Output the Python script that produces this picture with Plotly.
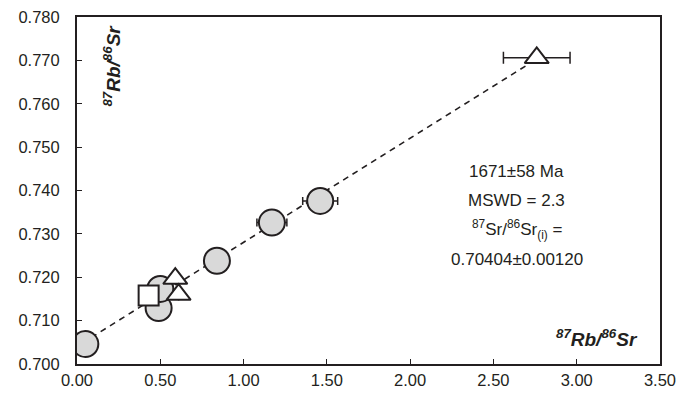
import plotly.graph_objects as go

# Data
circle_x = [0.05, 0.49, 0.50, 0.84, 1.17, 1.46]
circle_y = [0.7046, 0.7129, 0.7173, 0.7238, 0.7326, 0.7376]
circle_xerr = [0, 0, 0, 0, 0.09, 0.105]

square_x = [0.43]
square_y = [0.7158]

tri_x = [0.59, 0.61, 2.76]
tri_y = [0.7197, 0.7160, 0.7706]
tri_xerr = [0, 0, 0.20]

# isochron parameters
intercept = 0.70404
slope = 0.02401
line_x = [0.03, 2.72]
line_y = [intercept + slope * v for v in line_x]

x_ticks = [0.0, 0.5, 1.0, 1.5, 2.0, 2.5, 3.0, 3.5]
y_ticks = [0.700, 0.710, 0.720, 0.730, 0.740, 0.750, 0.760, 0.770, 0.780]

stats = ["1671±58 Ma", "MSWD = 2.3",
         "<sup>87</sup>Sr/<sup>86</sup>Sr<sub>(i)</sub> =", "0.70404±0.00120"]
stats_y = [0.7443, 0.7377, 0.7310, 0.7241]

INK = "#231f20"
FILL = "#d9d9d9"

fig = go.Figure()

fig.add_trace(go.Scatter(
    x=line_x, y=line_y, mode="lines",
    line=dict(color=INK, width=1.6, dash="6px,5px"),
    hoverinfo="skip", showlegend=False))

fig.add_trace(go.Scatter(
    x=circle_x, y=circle_y, mode="markers",
    marker=dict(symbol="circle", size=26, color=FILL, line=dict(color=INK, width=2)),
    error_x=dict(type="data", array=circle_xerr, color=INK, thickness=1.5, width=4),
    showlegend=False))

fig.add_trace(go.Scatter(
    x=square_x, y=square_y, mode="markers",
    marker=dict(symbol="square", size=20, color="white", line=dict(color=INK, width=2)),
    showlegend=False))

fig.add_trace(go.Scatter(
    x=tri_x, y=tri_y, mode="markers",
    marker=dict(symbol="triangle-up", size=21, color="white", line=dict(color=INK, width=2)),
    error_x=dict(type="data", array=tri_xerr, color=INK, thickness=1.5, width=6),
    showlegend=False))

axis_common = dict(
    showgrid=False, zeroline=False, showline=True, linecolor=INK, linewidth=2,
    mirror=True, ticks="inside", ticklen=5, tickwidth=1.2, tickcolor=INK,
    tickfont=dict(size=16.5, color=INK), automargin=False,
)

fig.update_xaxes(range=[0, 3.5], tickvals=x_ticks,
                 ticktext=[f"{v:.2f}" for v in x_ticks], **axis_common)
fig.update_yaxes(range=[0.700, 0.780], tickvals=y_ticks,
                 ticktext=[f"{v:.3f}" for v in y_ticks], ticklabelstandoff=12,
                 **axis_common)

ann_font = dict(size=17, color=INK)
for txt, yy in zip(stats, stats_y):
    fig.add_annotation(x=2.64, y=yy, xref="x", yref="y", text=txt,
                       showarrow=False, font=ann_font, xanchor="center", yanchor="middle")

fig.add_annotation(x=0.966, y=0.075, xref="paper", yref="paper",
                   text="<b><i><sup>87</sup>Rb/<sup>86</sup>Sr</i></b>",
                   showarrow=False, font=dict(size=19, color=INK),
                   xanchor="right", yanchor="middle")
fig.add_annotation(x=0.060, y=0.86, xref="paper", yref="paper",
                   text="<b><i><sup>87</sup>Rb/<sup>86</sup>Sr</i></b>",
                   showarrow=False, font=dict(size=19, color=INK), textangle=-90,
                   xanchor="center", yanchor="middle")

fig.update_layout(
    width=693, height=395,
    margin=dict(l=77, r=33, t=17, b=31, autoexpand=False),
    paper_bgcolor="white", plot_bgcolor="white",
    font=dict(family="Liberation Sans, Arial, sans-serif", color=INK),
    showlegend=False,
)

fig.write_html("out.html", config={"displayModeBar": False},
               post_script="document.body.style.margin='0';document.body.style.overflow='hidden';")
